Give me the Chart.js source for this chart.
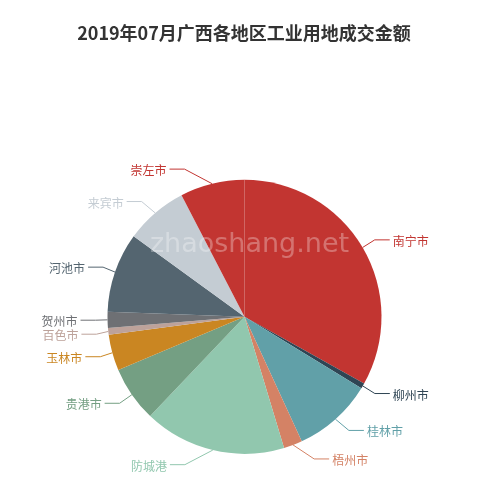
<!DOCTYPE html>
<html>
<head>
<meta charset="utf-8">
<script src="https://cdn.jsdelivr.net/npm/chart.js@4/dist/chart.umd.min.js"></script>
<style>
  html, body { margin: 0; padding: 0; background: #fff; }
  #wrap { width: 500px; height: 490px; position: relative; }
</style>
</head>
<body>
<div id="wrap"><canvas id="land-pie"></canvas></div>
<script>
const TITLE = '2019年07月广西各地区工业用地成交金额';
const WATERMARK = 'zhaoshang.net';
const CITIES = ['南宁市', '柳州市', '桂林市', '梧州市', '防城港', '贵港市', '玉林市', '百色市', '贺州市', '河池市', '来宾市', '崇左市'];
const AMOUNTS = [33.1, 0.63, 9.4, 2.2, 16.75, 6.55, 4.25, 0.8, 1.9, 9.4, 7.4, 7.6];
const COLORS = ['#c23531', '#2f4554', '#61a0a8', '#d48265', '#91c7ae', '#749f83', '#ca8622', '#bda29a', '#6e7074', '#546570', '#c4ccd3', '#c23531'];

// outside labels laid out the way echarts 4 does it
function layoutSide(list, cx, cy, r, dir, len, len2) {
    list.sort((a, b) => a.y - b.y);
    let lastY = 0;
    for (const item of list) {
        if (item.y < lastY) item.y = lastY;
        lastY = item.y + item.h;
    }
    const rr = r + len + len2;
    const changeX = (sub, isDown) => {
        let lastDX = isDown ? Number.MAX_VALUE : 0;
        for (const item of sub) {
            const dy = Math.abs(item.y - cy);
            let dx = dy < r + len ? Math.sqrt(rr * rr - dy * dy) : Math.abs(item.x - cx);
            if (isDown && dx >= lastDX) dx = lastDX - 10;
            if (!isDown && dx <= lastDX) dx = lastDX + 10;
            item.x = cx + dx * dir;
            lastDX = dx;
        }
    };
    changeX(list.filter(it => it.y < cy), false);
    changeX(list.filter(it => it.y >= cy), true);
}

const decorPlugin = {
    id: 'decor',
    afterDatasetsDraw(chart) {
        const ctx = chart.ctx;
        const meta = chart.getDatasetMeta(0);
        const len = 15, len2 = 15;
        let cx = 0, cy = 0, r = 0;
        const items = meta.data.map((arc, i) => {
            const p = arc.getProps(['x', 'y', 'outerRadius', 'startAngle', 'endAngle'], true);
            cx = p.x; cy = p.y; r = p.outerRadius;
            const mid = (p.startAngle + p.endAngle) / 2;
            const dx = Math.cos(mid), dy = Math.sin(mid);
            const dir = dx < 0 ? -1 : 1;
            const x2 = cx + (r + len) * dx;
            const x3 = x2 + dir * len2;
            return {
                i, dir,
                x1: cx + r * dx, y1: cy + r * dy,
                dist: x2 - x3,
                x: x3 + dir * 5, y: cy + (r + len) * dy,
                h: 14
            };
        });
        layoutSide(items.filter(it => it.dir < 0), cx, cy, r, -1, len, len2);
        layoutSide(items.filter(it => it.dir > 0), cx, cy, r, 1, len, len2);

        ctx.save();
        // watermark
        ctx.font = '27px "DejaVu Sans"';
        ctx.fillStyle = 'rgba(255,255,255,0.3)';
        ctx.textAlign = 'center';
        ctx.textBaseline = 'alphabetic';
        ctx.fillText(WATERMARK, cx + 5, 251.5);

        ctx.font = '12px "Noto Sans CJK SC"';
        ctx.textBaseline = 'middle';
        ctx.lineWidth = 1;
        for (const it of items) {
            const color = COLORS[it.i];
            const ex = it.x - it.dir * 3;
            ctx.strokeStyle = color;
            ctx.beginPath();
            ctx.moveTo(it.x1, it.y1);
            ctx.lineTo(ex + it.dist, it.y);
            ctx.lineTo(ex, it.y);
            ctx.stroke();
            ctx.fillStyle = color;
            ctx.textAlign = it.dir < 0 ? 'right' : 'left';
            ctx.fillText(CITIES[it.i], it.x, it.y + 1.5);
        }

        // title
        ctx.font = 'bold 18px "Noto Sans CJK SC"';
        ctx.fillStyle = '#333';
        ctx.textAlign = 'center';
        ctx.textBaseline = 'middle';
        ctx.fillText(TITLE, 244, 33);
        ctx.restore();
    }
};

new Chart(document.getElementById('land-pie'), {
    type: 'pie',
    data: {
        labels: CITIES,
        datasets: [{
            data: AMOUNTS,
            backgroundColor: COLORS,
            borderWidth: 0,
            radius: 137
        }]
    },
    options: {
        responsive: true,
        maintainAspectRatio: false,
        animation: false,
        events: [],
        layout: { padding: { left: 0, right: 11, top: 150, bottom: 6.4 } },
        plugins: {
            legend: { display: false },
            title: { display: false },
            tooltip: { enabled: false }
        }
    },
    plugins: [decorPlugin]
});
</script>
</body>
</html>
